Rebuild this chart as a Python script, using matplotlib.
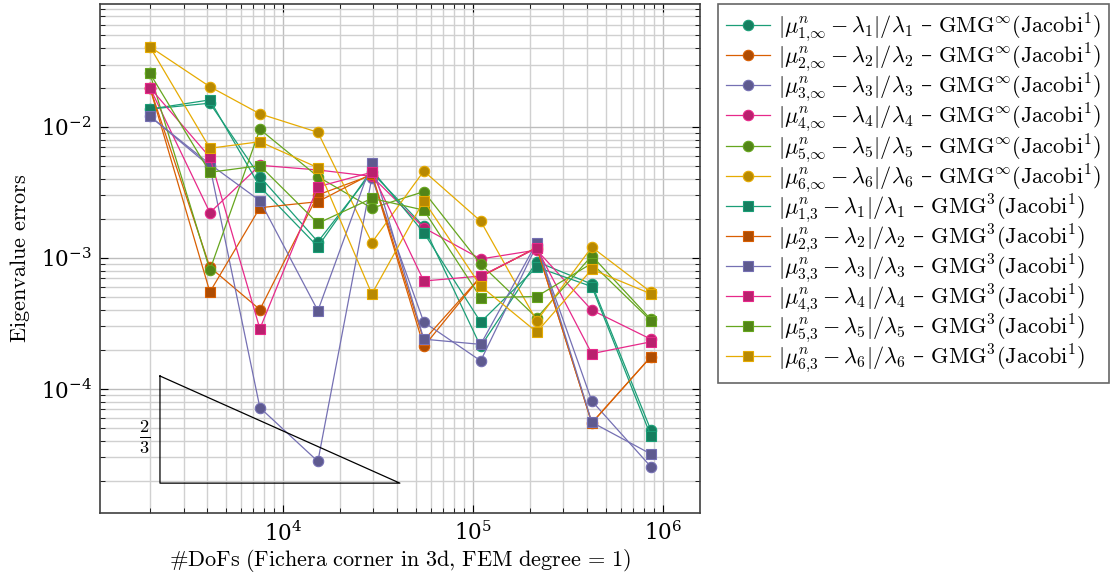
import numpy as np
import matplotlib
matplotlib.use("Agg")
import matplotlib.pyplot as plt
import matplotlib.colors as mcolors

plt.rcParams['mathtext.fontset'] = 'cm'
plt.rcParams['font.family'] = ['DejaVu Serif']

dofs = [1995, 4130, 7570, 15290, 29400, 55200, 110000, 217000, 423000, 865000]

err_inf_1 = [0.0137, 0.0152, 0.00418, 0.00133, 0.0045, 0.00174, 0.000211, 0.000937, 0.000632, 4.86e-5]
err_inf_2 = [0.0200, 0.00085, 0.000404, 0.00303, 0.0043, 0.000211, 0.00072, 0.0012, 5.5e-5, 0.000176]
err_inf_3 = [0.0121, 0.0050, 7.2e-5, 2.8e-5, 0.0041, 0.000324, 0.000164, 0.00125, 8.1e-5, 2.55e-5]
err_inf_4 = [0.0200, 0.00222, 0.0051, 0.0047, 0.0042, 0.0017, 0.000983, 0.00115, 0.000400, 0.000240]
err_inf_5 = [0.0257, 0.000809, 0.00960, 0.00418, 0.00240, 0.00321, 0.000899, 0.000349, 0.00104, 0.00034]
err_inf_6 = [0.0410, 0.0203, 0.0126, 0.00911, 0.00131, 0.00461, 0.00191, 0.000331, 0.00121, 0.00055]

err_3_1 = [0.0137, 0.0161, 0.00350, 0.00122, 0.0047, 0.00156, 0.000324, 0.000851, 0.000605, 4.38e-5]
err_3_2 = [0.0200, 0.00055, 0.00242, 0.00269, 0.0044, 0.000235, 0.00072, 0.0012, 5.5e-5, 0.000176]
err_3_3 = [0.0121, 0.0052, 0.00274, 0.000396, 0.00534, 0.000240, 0.000219, 0.00131, 5.57e-5, 3.19e-5]
err_3_4 = [0.0200, 0.00587, 0.000288, 0.00350, 0.00451, 0.000667, 0.000728, 0.00119, 0.000186, 0.000229]
err_3_5 = [0.0257, 0.00451, 0.00507, 0.00184, 0.00285, 0.00232, 0.000498, 0.000508, 0.000910, 0.000332]
err_3_6 = [0.0410, 0.00688, 0.00772, 0.00489, 0.000531, 0.00274, 0.000610, 0.000272, 0.000819, 0.000533]

series_inf = [err_inf_1, err_inf_2, err_inf_3, err_inf_4, err_inf_5, err_inf_6]
series_3 = [err_3_1, err_3_2, err_3_3, err_3_4, err_3_5, err_3_6]

colors = ['#1b9e77', '#d95f02', '#7570b3', '#e7298a', '#66a61e', '#e6ab02']

tri_x = [2255, 2255, 41300]
tri_y = [1.256e-4, 1.91e-5, 1.91e-5]

def darker(c, f=0.8):
    r, g, b = mcolors.to_rgb(c)
    return (r * f, g * f, b * f)

fig = plt.figure(figsize=(11.15, 5.78), dpi=100)
ax = fig.add_axes([100/1115, 1 - 513/578, 600/1115, 509/578])

handles = []
for i, (ys, c) in enumerate(zip(series_inf, colors)):
    h, = ax.plot(dofs, ys, '-', color=c, lw=0.9, marker='o', ms=7.5,
                 mfc=darker(c), mec=c, mew=0.8,
                 label=r'$|\mu^n_{%d{,}\infty}-\lambda_%d|/\lambda_%d$ – $\mathrm{GMG}^{\infty}(\mathrm{Jacobi}^{1})$' % (i + 1, i + 1, i + 1))
    handles.append(h)
for i, (ys, c) in enumerate(zip(series_3, colors)):
    h, = ax.plot(dofs, ys, '-', color=c, lw=0.9, marker='s', ms=7.5,
                 mfc=darker(c), mec=c, mew=0.8,
                 label=r'$|\mu^n_{%d{,}3}-\lambda_%d|/\lambda_%d$ – $\mathrm{GMG}^{3}(\mathrm{Jacobi}^{1})$' % (i + 1, i + 1, i + 1))
    handles.append(h)

# slope triangle
ax.plot(tri_x + [tri_x[0]], tri_y + [tri_y[0]], color='black', lw=0.9)
ax.text(1880, 4.3e-5, r'$\frac{2}{3}$', fontsize=19, ha='center', va='center')

ax.set_xscale('log')
ax.set_yscale('log')
ax.set_xlim(1090, 1.57e6)
ax.set_ylim(1.13e-5, 0.0869)

ax.grid(True, which='major', color='#bdbdbd', lw=1.0)
ax.grid(True, which='minor', color='#d0d0d0', lw=1.0)
ax.set_axisbelow(True)
ax.tick_params(which='both', direction='in', top=True, right=True, labelsize=15.5)
ax.tick_params(which='major', length=6, pad=6)
ax.tick_params(which='minor', length=3.5)
for s in ax.spines.values():
    s.set_color('#404040')
    s.set_linewidth(1.2)

ax.set_xlabel(r'$\#\mathrm{DoFs\ (Fichera\ corner\ in\ 3d,\,FEM\ degree}\,=\,1)$', fontsize=16, labelpad=1)
ax.set_ylabel(r'$\mathrm{Eigenvalue\ errors}$', fontsize=16, labelpad=6)

leg = fig.legend(handles=handles, loc='upper left', bbox_to_anchor=(718/1115, 1 - 4/578),
                 fontsize=16, frameon=True, fancybox=False, edgecolor='#404040',
                 handlelength=2.0, handletextpad=0.35, labelspacing=-0.1, borderpad=0.35,
                 borderaxespad=0.0)
leg.get_frame().set_linewidth(1.2)

fig.savefig('out.png', dpi=100)
